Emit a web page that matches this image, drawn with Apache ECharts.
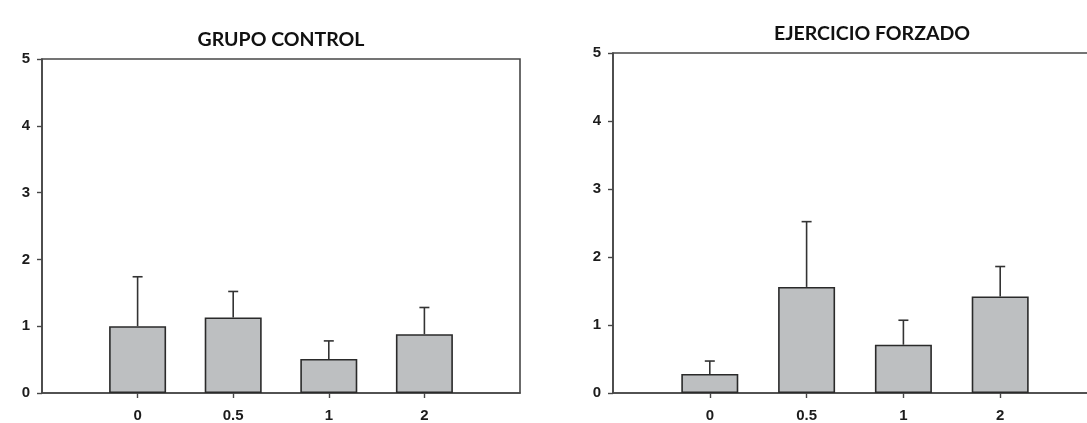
<!DOCTYPE html>
<html>
<head>
<meta charset="utf-8">
<script src="https://cdn.jsdelivr.net/npm/echarts@6/dist/echarts.min.js"></script>
<style>
  html, body { margin: 0; padding: 0; background: #fff; overflow: hidden; }
  /* the second panel's frame runs past the right edge of the page */
  #chart { width: 1100px; height: 423px; }
</style>
</head>
<body>
<div id="chart"></div>
<script>
// Dose groups on the x axis
const doses = ['0', '0.5', '1', '2'];

// GRUPO CONTROL: mean and upper end of the error bar
const controlMean = [1.00, 1.13, 0.51, 0.88];
const controlUpper = [1.74, 1.52, 0.78, 1.28];

// EJERCICIO FORZADO: mean and upper end of the error bar
const forcedMean = [0.28, 1.56, 0.71, 1.42];
const forcedUpper = [0.47, 2.52, 1.07, 1.86];

const panelTitles = ['GRUPO CONTROL', 'EJERCICIO FORZADO'];
const yMin = 0, yMax = 5, yStep = 1;

// Empty slots at both ends give the axis its side padding
const categories = [''].concat(doses, ['']);

const INK = '#1c1c1c';
const LINE = '#474747';
const BAR_FILL = '#bdbfc1';

function padded(values) {
  return ['-'].concat(values, ['-']);
}

function errorData(means, uppers) {
  return means.map((m, i) => [i + 1, m, uppers[i]]);
}

function drawErrorBar(params, api) {
  const idx = api.value(0);
  const base = api.coord([idx, api.value(1)]);
  const top = api.coord([idx, api.value(2)]);
  const cap = 5;
  const style = { stroke: '#333', lineWidth: 1.6 };
  return {
    type: 'group',
    children: [
      { type: 'line', shape: { x1: base[0], y1: base[1], x2: top[0], y2: top[1] }, style: style },
      { type: 'line', shape: { x1: top[0] - cap, y1: top[1], x2: top[0] + cap, y2: top[1] }, style: style }
    ]
  };
}

const tickFont = {
  fontFamily: '"Liberation Sans", Arial, sans-serif',
  fontWeight: 'bold',
  fontSize: 15,
  color: INK
};

function xAxisFor(gridIndex) {
  return {
    type: 'category',
    gridIndex: gridIndex,
    data: categories,
    boundaryGap: false,
    axisLine: { lineStyle: { color: LINE, width: 1.6 } },
    axisTick: {
      length: 5,
      lineStyle: { color: LINE, width: 1.4 },
      interval: (i) => i >= 1 && i <= doses.length
    },
    axisLabel: Object.assign({
      margin: 15,
      interval: (i) => i >= 1 && i <= doses.length
    }, tickFont),
    splitLine: { show: false }
  };
}

function yAxisFor(gridIndex) {
  return {
    type: 'value',
    gridIndex: gridIndex,
    min: yMin,
    max: yMax,
    interval: yStep,
    axisLine: { show: true, lineStyle: { color: LINE, width: 1.6 } },
    axisTick: { show: true, length: 5, lineStyle: { color: LINE, width: 1.4 } },
    axisLabel: Object.assign({ margin: 12 }, tickFont),
    splitLine: { show: false }
  };
}

function barSeries(gridIndex, means) {
  return {
    type: 'bar',
    xAxisIndex: gridIndex,
    yAxisIndex: gridIndex,
    data: padded(means),
    barWidth: 57,
    itemStyle: { color: BAR_FILL, borderColor: '#2a2a2a', borderWidth: 1.6 },
    silent: true
  };
}

function errorSeries(gridIndex, means, uppers) {
  return {
    type: 'custom',
    xAxisIndex: gridIndex,
    yAxisIndex: gridIndex,
    renderItem: drawErrorBar,
    encode: { x: 0, y: [1, 2] },
    data: errorData(means, uppers),
    z: 1,
    silent: true
  };
}

const titleStyle = {
  fontFamily: 'Lato, "Open Sans", sans-serif',
  fontWeight: 'bold',
  fontSize: 19.5,
  fill: '#111',
  textAlign: 'center',
  textVerticalAlign: 'middle'
};

const chart = echarts.init(document.getElementById('chart'), null, { renderer: 'canvas' });

chart.setOption({
  animation: false,
  backgroundColor: '#fff',
  grid: [
    { left: 42, top: 59, width: 478, height: 336, show: true, borderColor: LINE, borderWidth: 1.6 },
    { left: 613, top: 53, width: 484, height: 341, show: true, borderColor: LINE, borderWidth: 1.6 }
  ],
  graphic: [
    { type: 'text', x: 281, y: 40, style: Object.assign({ text: panelTitles[0] }, titleStyle) },
    { type: 'text', x: 872, y: 34, style: Object.assign({ text: panelTitles[1] }, titleStyle) }
  ],
  xAxis: [xAxisFor(0), xAxisFor(1)],
  yAxis: [yAxisFor(0), yAxisFor(1)],
  series: [
    errorSeries(0, controlMean, controlUpper),
    barSeries(0, controlMean),
    errorSeries(1, forcedMean, forcedUpper),
    barSeries(1, forcedMean)
  ]
});
</script>
</body>
</html>
